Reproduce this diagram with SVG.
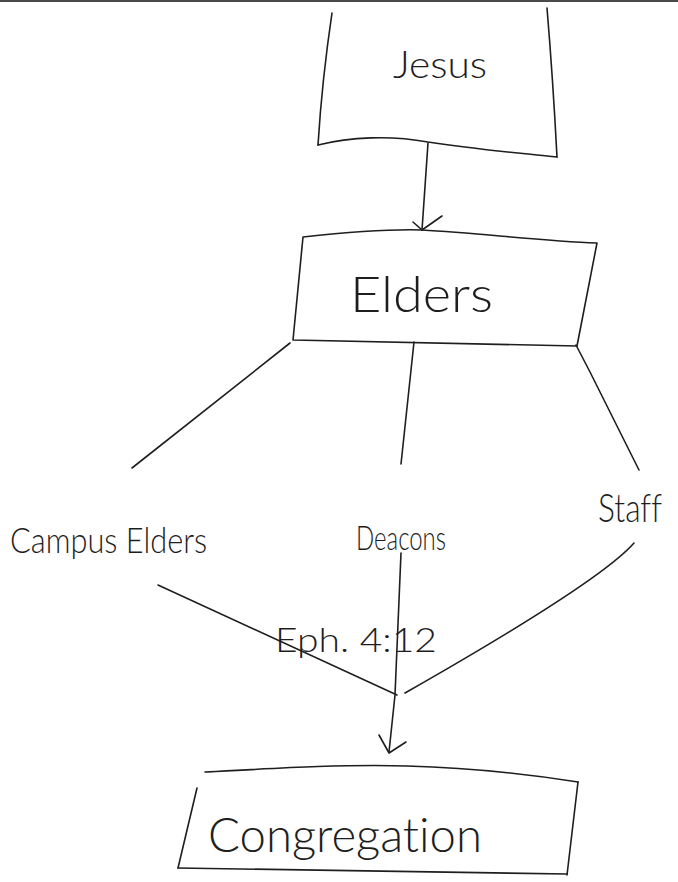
<svg xmlns="http://www.w3.org/2000/svg" width="678" height="882" viewBox="0 0 678 882">
<style>
.ln{fill:none;stroke:#1e1e1e;stroke-width:1.6;stroke-linecap:round;stroke-linejoin:round}
.tx{font-family:"Lato","Open Sans","Liberation Sans",sans-serif;font-weight:300;fill:#1e1e1e;font-variant-ligatures:none}
</style>
<rect x="0" y="0" width="678" height="882" fill="#ffffff"/>
<rect x="0" y="0" width="678" height="2" fill="#4a4a4a"/>
<g id="jesus">
<path class="ln" d="M332,13 Q322,80 318,145"/>
<path class="ln" d="M547,8 Q553,80 557,157"/>
<path class="ln" d="M318,145 C350,137 390,135 428,142 C480,150 520,153 557,157"/>
<text class="tx" x="393" y="78" font-size="38" textLength="94" lengthAdjust="spacingAndGlyphs">Jesus</text>
</g>
<g id="elders">
<path class="ln" d="M303,237 C340,233 390,229 422,230 C480,233 540,241 597,243 L577,346 L293,340 Z"/>
<text class="tx" x="350" y="312" font-size="50" textLength="143" lengthAdjust="spacingAndGlyphs">Elders</text>
</g>
<g id="campus-elders">
<text class="tx" x="10" y="553" font-size="36" textLength="197" lengthAdjust="spacingAndGlyphs">Campus Elders</text>
</g>
<g id="deacons">
<text class="tx" x="356" y="550" font-size="34" textLength="90" lengthAdjust="spacingAndGlyphs">Deacons</text>
</g>
<g id="staff">
<text class="tx" x="598" y="522" font-size="40" textLength="64" lengthAdjust="spacingAndGlyphs">Staff</text>
</g>
<g id="eph-label">
<text class="tx" x="275" y="652" font-size="34" textLength="162" lengthAdjust="spacingAndGlyphs">Eph. 4:12</text>
</g>
<g id="congregation">
<path class="ln" d="M205,772 C280,768 350,764 407,766 C480,768 540,776 578,782"/>
<path class="ln" d="M578,782 L567,875"/>
<path class="ln" d="M178,868 L567,874"/>
<path class="ln" d="M197,788 L178,868"/>
<text class="tx" x="208" y="852" font-size="48" textLength="274" lengthAdjust="spacingAndGlyphs">Congregation</text>
</g>
<g id="connectors">
<path class="ln" d="M428,143 L422,230"/>
<path class="ln" d="M413,222 L422,230 L442,216"/>
<path class="ln" d="M290,343 L132,468"/>
<path class="ln" d="M414,342 L401,464"/>
<path class="ln" d="M576,345 L590,372 L639,470"/>
<path class="ln" d="M158,585 L397,695"/>
<path class="ln" d="M401,553 L395,695 L389,752"/>
<path class="ln" d="M634,543 Q600,582 405,693"/>
<path class="ln" d="M379,735 L389,753 L406,742"/>
</g>
</svg>
